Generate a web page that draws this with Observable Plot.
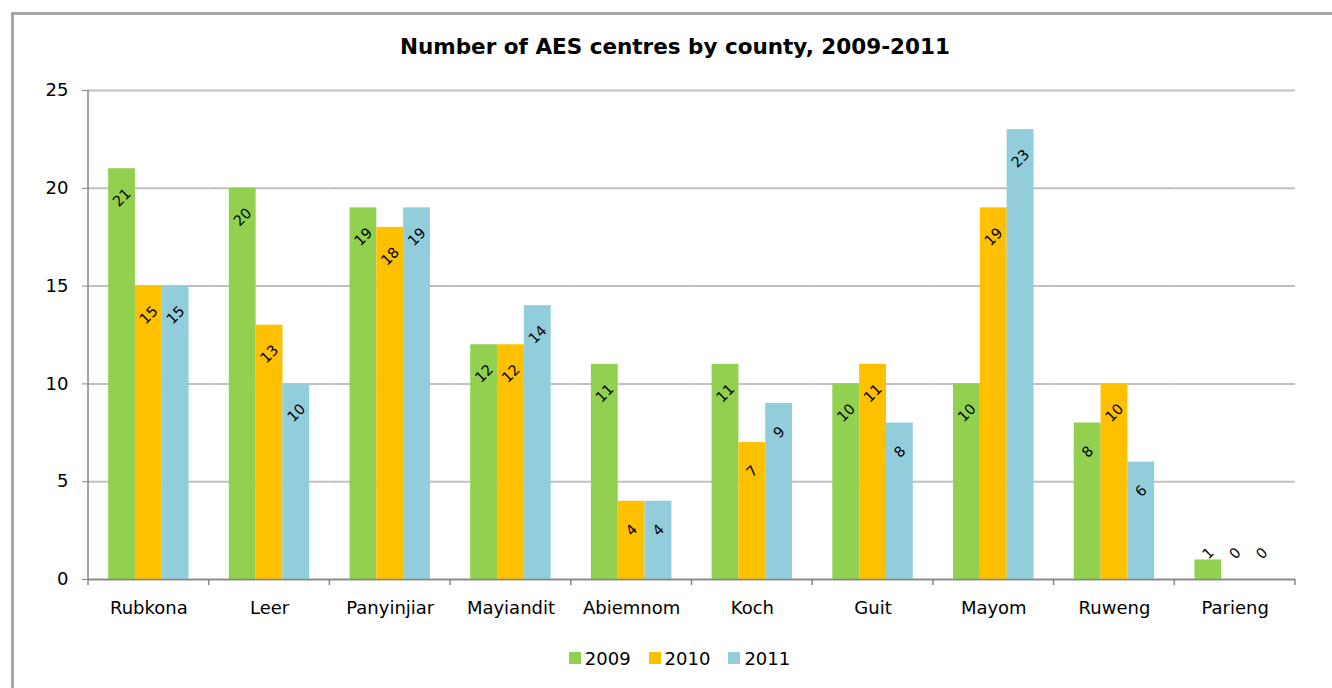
<!DOCTYPE html>
<html><head><meta charset="utf-8">
<script src="https://cdn.jsdelivr.net/npm/d3@7"></script>
<script src="https://cdn.jsdelivr.net/npm/@observablehq/plot@0.6"></script>
<style>
body{margin:0;background:#fff;font-family:"DejaVu Sans",sans-serif;overflow:hidden;width:1332px;height:688px;position:relative;}
#frame{position:absolute;left:11px;top:12px;width:1400px;height:800px;border:3px solid #a6a6a6;box-sizing:border-box;}
#title{position:absolute;left:0;width:1350px;top:35px;line-height:24px;text-align:center;font-weight:bold;font-size:21.5px;color:#000;}
#chart{position:absolute;left:0;top:60px;}
#legend{position:absolute;left:0;width:1359px;top:647px;height:22px;display:flex;justify-content:center;align-items:center;font-size:18px;color:#000;}
#legend .item{display:flex;align-items:center;margin:0 9px;}
#legend .sw{width:12px;height:12px;margin-right:4px;}
</style></head>
<body>
<div id="frame"></div>
<div id="title">Number of AES centres by county, 2009-2011</div>
<div id="chart"></div>
<div id="legend"></div>
<script>
const counties = ["Rubkona","Leer","Panyinjiar","Mayiandit","Abiemnom","Koch","Guit","Mayom","Ruweng","Parieng"];
const years = ["2009","2010","2011"];
const v2009 = [21,20,19,12,11,11,10,10,8,1];
const v2010 = [15,13,18,12,4,7,11,19,10,0];
const v2011 = [15,10,19,14,4,9,8,23,6,0];
const yTicks = [0,5,10,15,20,25];
const colors = ["#92D050","#FFC000","#92CDDC"];

const series = [v2009, v2010, v2011];
const rows = [];
counties.forEach((c, i) => years.forEach((yr, j) => rows.push({county: c, year: yr, value: series[j][i]})));

let decorDrawn = false;
function decor(index, scales, values, dims) {
  const g = d3.create("svg:g").attr("stroke", "#868686").attr("stroke-width", 1.5).attr("fill", "none");
  if (decorDrawn) return g.node();
  decorDrawn = true;
  const y = scales.y;
  const fx = scales.fx;
  const bounds = counties.map(c => fx(c));
  const x0 = bounds[0];
  bounds.push(fx(counties[counties.length - 1]) + fx.bandwidth());
  g.append("line").attr("x1", x0).attr("x2", x0).attr("y1", y(25)).attr("y2", y(0));
  bounds.forEach(b => g.append("line").attr("x1", b).attr("x2", b).attr("y1", y(0)).attr("y2", y(0) + 6));
  return g.node();
}

const chart = Plot.plot({
  width: 1332, height: 580,
  marginLeft: 88, marginRight: 37, marginTop: 30, marginBottom: 61,
  style: {fontFamily: "DejaVu Sans", fontSize: "18px", color: "#000", background: "transparent", overflow: "visible"},
  fx: {domain: counties, padding: 0, round: false, label: null},
  x: {domain: years, paddingInner: 0, paddingOuter: 0.75, round: false, axis: null},
  y: {domain: [0, 25], label: null},
  color: {domain: years, range: colors},
  marks: [
    Plot.gridY(yTicks, {stroke: "#c0c0c0", strokeOpacity: 1, strokeWidth: 2}),
    Plot.barY(rows, {fx: "county", x: "year", y: "value", fill: "year"}),
    Plot.ruleY([0], {stroke: "#868686", strokeWidth: 1.5}),
    Plot.axisY(yTicks, {anchor: "left", tickSize: 6, tickPadding: 14, label: null, stroke: "#868686", fontSize: 18}),
    Plot.axisFx({anchor: "bottom", tickSize: 0, tickPadding: 22, label: null, fontSize: 18}),
    Plot.text(rows.filter(d => d.value >= 2), {fx: "county", x: "year", y: "value", text: d => String(d.value), rotate: -45, dy: 29, fontSize: 14.5, fill: "#000"}),
    Plot.text(rows.filter(d => d.value < 2), {fx: "county", x: "year", y: () => 0, text: d => String(d.value), rotate: -45, dy: -26, fontSize: 14.5, fill: "#000"}),
    decor
  ]
});
document.getElementById("chart").appendChild(chart);

const legend = d3.select("#legend");
years.forEach((yr, j) => {
  const it = legend.append("div").attr("class", "item");
  it.append("div").attr("class", "sw").style("background", colors[j]);
  it.append("span").text(yr);
});
</script>
</body></html>
